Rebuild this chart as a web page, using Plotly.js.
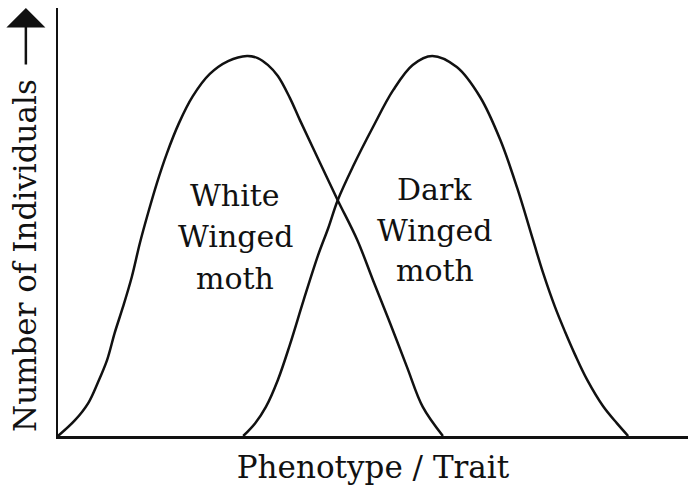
<!DOCTYPE html>
<html>
<head>
<meta charset="utf-8">
<script src="https://cdn.plot.ly/plotly-3.0.1.min.js"></script>
<style>
  html, body { margin: 0; padding: 0; background: #fff; }
  #grafico { width: 688px; height: 489px; }
</style>
</head>
<body>
<div id="grafico"></div>
<script>
// Curve (fenotipo 0-100, individui 0-100)

var xBianche = [0, 2.7, 4.8, 6.3, 7.8, 9.0, 10.3, 11.7, 13.0, 14.3, 15.7, 17.3, 19.2, 21.4, 24.1, 27.0, 30.0,
    31.7, 33.3, 34.9, 36.8, 38.4, 41.6, 44.4, 47.5, 50.0, 52.7, 55.4, 57.9, 61.1];
var yBianche = [0, 3.7, 7.7, 12.4, 17.8, 24.1, 30.1, 37.1, 45.1, 52.1, 59.1, 66.1, 73.1, 79.4, 84.6, 87.6, 88.8,
    88.3, 86.7, 84.1, 79.0, 73.8, 63.8, 55.1, 45.8, 36.4, 26.4, 16.1, 6.8, 0];

var xScure = [29.4, 31.3, 33.0, 34.9, 36.8, 39.0, 41.3, 42.9, 44.4, 46.8, 50.0, 53.2, 56.3, 59.4,
    63.3, 67.0, 70.2, 72.9, 75.4, 77.0, 78.9, 80.5, 82.1, 84.0, 86.5, 88.7, 90.5];
var yScure = [0, 3.0, 6.8, 13.1, 21.3, 31.8, 42.3, 48.6, 55.1, 62.9, 72.2, 80.8, 86.7, 88.8,
    86.2, 79.2, 69.2, 57.9, 45.8, 38.1, 30.1, 24.3, 18.9, 13.1, 7.0, 3.0, 0];

// etichette dentro le curve, una riga per volta
var righeBianche = ["White", "Winged", "moth"];
var yRigheBianche = [56.3, 46.5, 36.9];
var xEtichettaBianche = 28.1;

var righeScure = ["Dark", "Winged", "moth"];
var yRigheScure = [57.7, 48.1, 38.6];
var xEtichettaScure = 59.8;

var titoloX = "Phenotype / Trait";
var titoloY = "Number of Individuals";

var font = "DejaVu Serif";
var nero = '#111';

var linea = { color: nero, width: 2.5, shape: 'spline', smoothing: 1 };

var dati = [
    { type: 'scatter', mode: 'lines', x: xBianche, y: yBianche, line: linea, hoverinfo: 'skip' },
    { type: 'scatter', mode: 'lines', x: xScure, y: yScure, line: linea, hoverinfo: 'skip' }
];

var note = [];
righeBianche.forEach(function (t, i) {
    note.push({ x: xEtichettaBianche, y: yRigheBianche[i], text: t, showarrow: false,
        xanchor: 'center', yanchor: 'middle', font: { family: font, size: 30, color: nero } });
});
righeScure.forEach(function (t, i) {
    note.push({ x: xEtichettaScure, y: yRigheScure[i], text: t, showarrow: false,
        xanchor: 'center', yanchor: 'middle', font: { family: font, size: 30, color: nero } });
});
// titolo verticale con la sua freccia
note.push({
    xref: 'paper', yref: 'paper', x: -0.0524, y: 0.4229,
    text: titoloY, textangle: -90, showarrow: false,
    xanchor: 'center', yanchor: 'middle',
    font: { family: font, size: 31, color: nero }
});
note.push({
    xref: 'paper', yref: 'paper', x: -0.051, y: 1.0,
    ax: 0, ay: 58, text: '', showarrow: true,
    arrowhead: 1, arrowsize: 2.6, arrowwidth: 2.5, arrowcolor: nero
});

var layout = {
    width: 688,
    height: 489,
    margin: { l: 58, r: 0, t: 8, b: 53 },
    paper_bgcolor: '#fff',
    plot_bgcolor: '#fff',
    showlegend: false,
    xaxis: {
        range: [0, 100],
        showline: true, linecolor: nero, linewidth: 2.5,
        showgrid: false, zeroline: false, showticklabels: false, ticks: '',
        title: { text: titoloX, font: { family: font, size: 31, color: nero }, standoff: 19 }
    },
    yaxis: {
        range: [0, 100],
        showline: true, linecolor: nero, linewidth: 2.5,
        showgrid: false, zeroline: false, showticklabels: false, ticks: ''
    },
    annotations: note
};

Plotly.newPlot('grafico', dati, layout, { staticPlot: true });
</script>
</body>
</html>
